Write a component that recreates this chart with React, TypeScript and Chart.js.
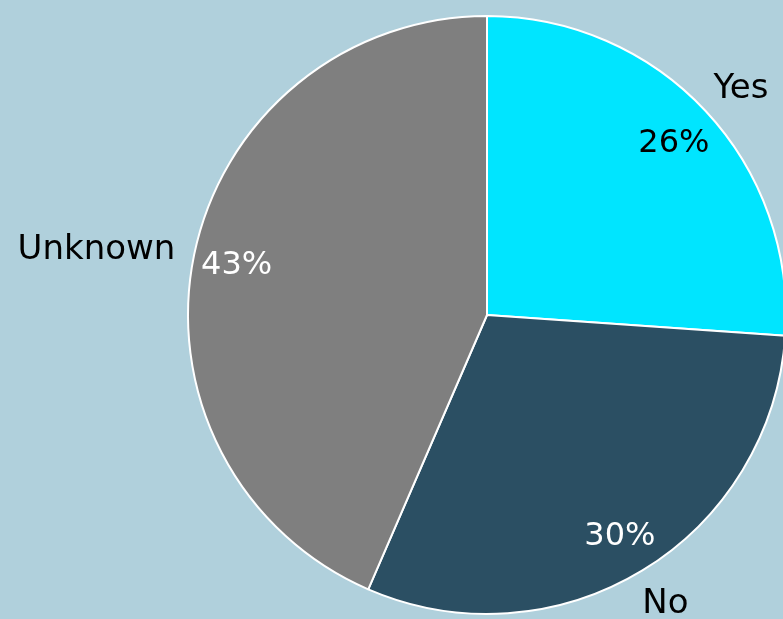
import React, { useEffect, useRef } from "react";
import { Chart, registerables } from "chart.js";

Chart.register(...registerables);

const categories = ["Yes", "No", "Unknown"];
const values = [26.1, 30.4, 43.5];
const percentLabels = ["26%", "30%", "43%"];
const sliceColors = ["#00e5ff", "#2b4f63", "#7f7f7f"];
const percentColors = ["#000000", "#ffffff", "#ffffff"];

const FONT_FAMILY = "'DejaVu Sans', sans-serif";

const labelPlugin = {
  id: "pieLabels",
  afterDatasetsDraw(chart: any) {
    const ctx = chart.ctx;
    const meta = chart.getDatasetMeta(0);
    ctx.save();
    meta.data.forEach((arc: any, i: number) => {
      const { x, y, startAngle, endAngle, outerRadius } = arc.getProps(
        ["x", "y", "startAngle", "endAngle", "outerRadius"],
        true
      );
      const mid = (startAngle + endAngle) / 2;
      const dx = Math.cos(mid);
      const dy = Math.sin(mid);

      // percentage inside
      ctx.font = `32px ${FONT_FAMILY}`;
      ctx.fillStyle = percentColors[i];
      ctx.textAlign = "center";
      ctx.textBaseline = "middle";
      const pr = outerRadius * 0.855;
      ctx.fillText(percentLabels[i], x + dx * pr, y + dy * pr + 3);

      // category name outside
      ctx.font = `34px ${FONT_FAMILY}`;
      ctx.fillStyle = "#000000";
      const w = ctx.measureText(categories[i]).width;
      const h = 30;
      const ar = outerRadius * 1.07;
      const ax = x + dx * ar;
      const ay = y + dy * ar;
      const cx = ax + (dx * w) / 2;
      const cy = ay + (dy * h) / 2 + 3;
      ctx.fillText(categories[i], cx, cy);
    });
    ctx.restore();
  },
};

export default function App() {
  const canvasRef = useRef<HTMLCanvasElement | null>(null);

  useEffect(() => {
    if (!canvasRef.current) return;
    const chart = new Chart(canvasRef.current, {
      type: "pie",
      data: {
        labels: categories,
        datasets: [
          {
            data: values,
            backgroundColor: sliceColors,
            borderColor: "#ffffff",
            borderWidth: 2,
          },
        ],
      },
      options: {
        responsive: false,
        animation: false,
        events: [],
        layout: { padding: { left: 187, right: 13, top: 15, bottom: 4 } },
        plugins: {
          legend: { display: false },
          tooltip: { enabled: false },
        },
      },
      plugins: [labelPlugin],
    });
    return () => chart.destroy();
  }, []);

  return (
    <div
      style={{
        position: "fixed",
        left: 0,
        top: 0,
        width: 783,
        height: 619,
        overflow: "hidden",
        background: "#b0d0dc",
      }}
    >
      <canvas ref={canvasRef} width={800} height={619} style={{ display: "block" }} />
    </div>
  );
}
